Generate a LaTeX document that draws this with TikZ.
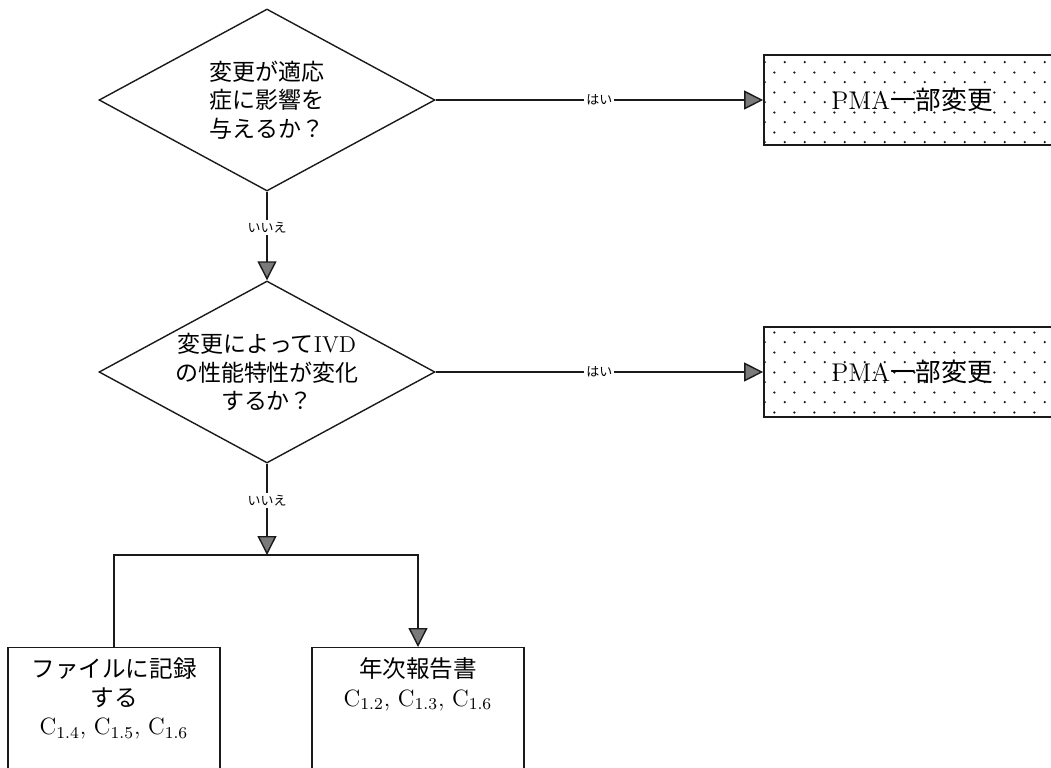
\documentclass[tikz,border=0pt]{standalone}
\usepackage{fontspec}
\newfontfamily\jp{Noto Sans CJK JP}
\usepackage{tikz}
\usetikzlibrary{arrows.meta, shapes.geometric, patterns}
\definecolor{inkBlack}{HTML}{1A1A1A}
\definecolor{tipGrey}{HTML}{7A7A7A}
\pgfdeclarepatternformonly{pmadots}{\pgfqpoint{0pt}{0pt}}{\pgfqpoint{10pt}{10pt}}{\pgfqpoint{10pt}{10pt}}{
  \pgfpathcircle{\pgfqpoint{2.5pt}{2.5pt}}{0.65pt}
  \pgfpathcircle{\pgfqpoint{7.5pt}{7.5pt}}{0.65pt}
  \pgfusepath{fill}
}
\tikzset{
  ask/.style  = {diamond, aspect=1.85, draw=inkBlack, line width=0.7pt, inner sep=0pt, align=center,
                 minimum width=168pt, minimum height=91pt,
                 font=\jp\fontsize{11.5}{14.2}\selectfont},
  pma/.style  = {draw=inkBlack, line width=0.9pt, pattern=pmadots, pattern color=inkBlack,
                 minimum width=148pt, minimum height=45pt, inner sep=0pt,
                 font=\fontsize{12.8}{15}\selectfont},
  endbox/.style = {draw=inkBlack, line width=0.7pt, anchor=north, align=center,
                 minimum width=106pt, inner xsep=2pt, inner ysep=5pt, text depth=75pt,
                 font=\jp\fontsize{11.8}{14.3}\selectfont},
  fl/.style   = {-{Triangle[length=9.5pt, width=9.5pt, fill=tipGrey]}, draw=inkBlack, line width=0.7pt},
  ln/.style   = {draw=inkBlack, line width=0.7pt},
  lbl/.style  = {font=\jp\fontsize{6.5}{7.5}\selectfont, fill=white, inner sep=1pt}
}
\begin{document}
\begin{tikzpicture}[x=0.5pt, y=-0.5pt]
  \useasboundingbox (0,0) rectangle (1051,767);
  \node[ask] (d1) at (267,100) {変更が適応\\症に影響を\\与えるか？};
  \node[ask] (d2) at (267,372) {変更によって{\rmfamily IVD}\\の性能特性が変化\\するか？};
  \node[pma] (pma1) at (912,100) {PMA{\jp 一部変更}};
  \node[pma] (pma2) at (912,372) {PMA{\jp 一部変更}};
  \coordinate (split) at (267,555);
  \node[endbox] (rec) at (114,647) {ファイルに記録\\する\\{\rmfamily C\textsubscript{1.4}, C\textsubscript{1.5}, C\textsubscript{1.6}}};
  \node[endbox] (rpt) at (418,647) {年次報告書\\{\rmfamily C\textsubscript{1.2}, C\textsubscript{1.3}, C\textsubscript{1.6}}};
  \foreach \a/\b in {d1/pma1,d2/pma2} \draw[fl] (\a) -- node[lbl]{はい} (\b);
  \draw[fl] (d1) -- node[lbl, pos=0.4]{いいえ} (d2);
  \draw[fl] (d2) -- node[lbl, pos=0.4]{いいえ} (split);
  \draw[ln] (split) -| (rec.north);
  \draw[fl] (split) -| (rpt.north);
\end{tikzpicture}
\end{document}
